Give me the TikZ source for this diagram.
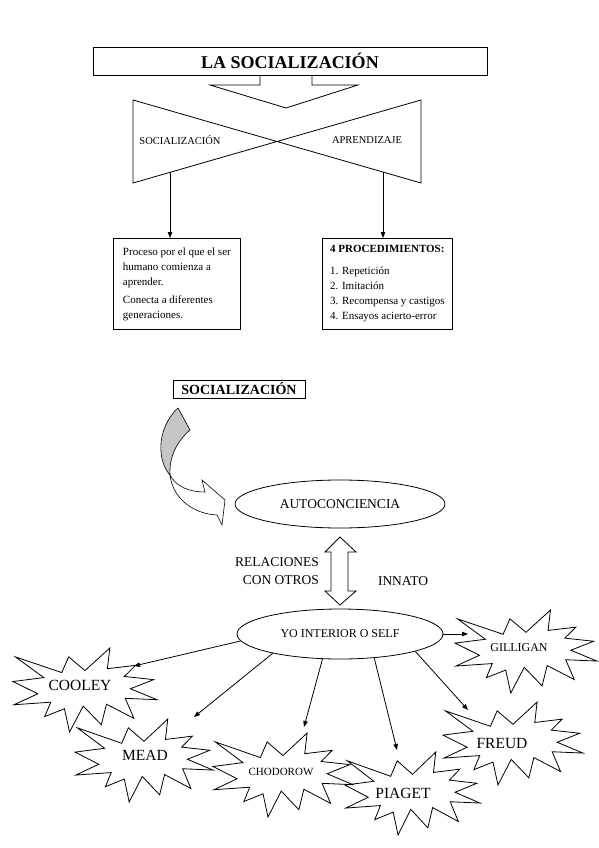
\documentclass[tikz,border=0pt]{standalone}
\usepackage{fontspec}
\setmainfont{Liberation Serif}
\usetikzlibrary{shapes.geometric,arrows.meta}
\newcommand\sealshape[4]{%
 \begin{scope}[shift={(#1,#2)},xscale=#3/100,yscale=#4/100]
 \draw[sealline] (50,26.85) -- (67.23,0) -- (65.53,24.65) -- (85.09,20.63) -- (77.32,33.87) -- (97.67,37.67) -- (81.51,48.50) -- (100,61.53) -- (77.95,59.92) -- (84.00,83.77) -- (64.91,66.93) -- (61.33,91.38) -- (48.76,69.14) -- (39.28,100) -- (35.72,72.35) -- (22.05,81.56) -- (26.24,64.52) -- (0.63,67.53) -- (17.23,54.51) -- (0,39.88) -- (21.42,35.26) -- (1.71,10.63) -- (33.85,29.26) -- (38.67,10.63) -- cycle;
 \end{scope}}
\newcommand\fsz[1]{\fontsize{#1}{#1}\selectfont}
\begin{document}
\begin{tikzpicture}[x=1pt,y=-1pt,line width=0.8pt,
  sealline/.style={draw=black,line width=0.8pt,line join=miter},
  conn/.style={-{Triangle[length=6pt,width=4.5pt]},line width=0.8pt},
  plain/.style={inner sep=0pt},
  textbox/.style={draw,inner sep=0pt,align=left,font=\fontsize{11}{15}\selectfont},
  oval/.style={draw,ellipse,inner sep=0pt}]
\useasboundingbox (0,0) rectangle (599,848);

% ---- Top part ----
\node[draw,minimum width=394,minimum height=28,inner sep=0pt,font=\bfseries\fsz{18}] (title) at (290,61) {LA SOCIALIZACIÓN};
\draw (260,75) -- (260,85) -- (210,85) -- (286,108) -- (358,85) -- (312,85) -- (312,75);
\draw (133,100) -- (421,183) -- (421,100) -- (133,183) -- cycle;
\node[plain,font=\fsz{10.5}] (soc) at (180,140) {SOCIALIZACIÓN};
\node[plain,font=\fsz{10.5}] (apr) at (367,140) {APRENDIZAJE};
\coordinate (bt1) at (170,172);
\coordinate (bt2) at (383,172);

\node[textbox,anchor=north west,minimum width=127,minimum height=91] (box1) at (113,238)
 {Proceso por el que el ser\\ humano comienza a\\ aprender.\\[3pt] Conecta a diferentes\\ generaciones.};
\node[textbox,anchor=north west,minimum width=130,minimum height=91] (box2) at (322,238)
 {\textbf{4 PROCEDIMIENTOS:}\\[7pt] 1. Repetición\\ 2. Imitación\\ 3. Recompensa y castigos\\ 4. Ensayos acierto-error};
\draw[conn] (bt1) -- (bt1 |- box1.north);
\draw[conn] (bt2) -- (bt2 |- box2.north);

% ---- Lower part ----
\node[draw,minimum width=132,minimum height=18,inner sep=0pt,font=\bfseries\fsz{14}] (soc2) at (239,389) {SOCIALIZACIÓN};

% curved arrow
\draw[fill=white,line width=0.6pt,line join=miter] (170,475) .. controls (176,487) and (190,492) .. (205,492) -- (202,480) -- (225,500) -- (222,525) -- (217,515) .. controls (195,514) and (173,500) .. (170,475) -- cycle;
\draw[fill=gray!45,line width=0.6pt] (178,408) -- (190,430) .. controls (176,442) and (169,458) .. (170,475) .. controls (158,462) and (155,430) .. (178,408) -- cycle;

\node[oval,minimum width=210,minimum height=48,font=\fsz{13.5}] (auto) at (340,504) {AUTOCONCIENCIA};

% double arrow
\draw[line join=miter] (340,537) -- (356,552) -- (348,552) -- (348,591) -- (356,591) -- (340,605) -- (325,591) -- (331,591) -- (331,552) -- (325,552) -- cycle;
\node[plain,font=\fsz{13.5},align=right] (rel) at (277,571) {RELACIONES\\[5pt]CON OTROS};
\node[plain,font=\fsz{13.5}] (inn) at (403,581) {INNATO};

\node[oval,minimum width=206,minimum height=50,font=\fsz{12}] (self) at (340,634) {YO INTERIOR O SELF};

% bursts
\sealshape{13}{648}{144}{84}
\sealshape{75}{719}{138}{83}
\sealshape{213}{733}{140}{84}
\sealshape{345}{752}{135}{83}
\sealshape{443}{702}{140}{83}
\sealshape{455}{610}{142}{83}
\node[plain,font=\fsz{15.5}] (cooley) at (80,685) {COOLEY};
\node[plain,font=\fsz{15.5}] (mead) at (145,755) {MEAD};
\node[plain,font=\fsz{11}] (chodorow) at (281,772) {CHODOROW};
\node[plain,font=\fsz{15.5}] (piaget) at (403,793) {PIAGET};
\node[plain,font=\fsz{15.5}] (freud) at (502,743) {FREUD};
\node[plain,font=\fsz{12}] (gilligan) at (519,648) {GILLIGAN};

\coordinate (cooleyin) at (134,666);
\coordinate (meadin) at (194,717);
\coordinate (chodin) at (304,727);
\coordinate (piagetin) at (397,750);
\coordinate (freudin) at (468,710);
\coordinate (gilin) at (468,634);
\draw[conn] (self.184.5) -- (cooleyin);
\draw[conn] (self.196.8) -- (meadin);
\draw[conn] (self.235) -- (chodin);
\draw[conn] (self.325) -- (piagetin);
\draw[conn] (self.347) -- (freudin);
\draw[conn] (self.east) -- (gilin);
\end{tikzpicture}
\end{document}
